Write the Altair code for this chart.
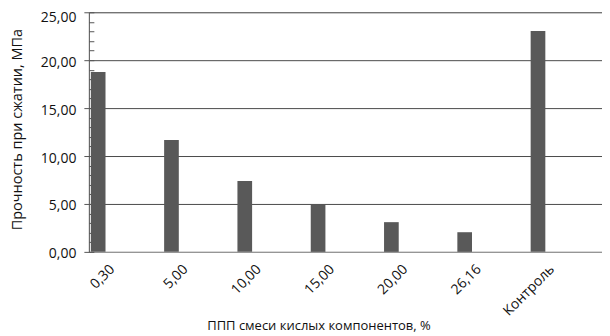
import altair as alt
import pandas as pd

categories = ["0,30", "5,00", "10,00", "15,00", "20,00", "26,16", "Контроль"]
strength = [18.78, 11.67, 7.40, 4.90, 3.10, 2.05, 23.05]
minor_ticks = list(range(0, 26))
major_ticks = [0, 5, 10, 15, 20, 25]

df = pd.DataFrame({"cat": categories, "val": strength})

FONT = "Open Sans"
fmt = "replace(format(datum.value, '.2f'), '.', ',')"

x_enc = alt.X(
    "cat:N",
    sort=categories,
    scale=alt.Scale(paddingInner=0, paddingOuter=0),
    axis=alt.Axis(
        title="ППП смеси кислых компонентов, %",
        labelAngle=-45,
        labelAlign="right",
        labelBaseline="top",
        labelOffset=-18,
        labelPadding=10,
        labelFontSize=14,
        labelFont=FONT,
        labelColor="#111",
        ticks=False,
        domainColor="#a0a0a0",
        titleFont=FONT,
        titleFontSize=13,
        titleFontWeight="normal",
        titleColor="#111",
        titleX=230,
        titleY=74,
        titleAlign="center",
        titleBaseline="middle",
    ),
)

bars = alt.Chart(df).mark_bar(size=14.7, xOffset=-27.4, color="#595959").encode(
    x=x_enc,
    y=alt.Y(
        "val:Q",
        scale=alt.Scale(domain=[0, 25], nice=False),
        axis=alt.Axis(
            title="Прочность при сжатии, МПа",
            values=major_ticks,
            labelExpr=fmt,
            labelFont=FONT,
            labelFontSize=14,
            labelColor="#111",
            labelPadding=8,
            labelOffset={"condition": {"test": "datum.value == 25", "value": 5.5}, "value": 2},
            tickSize=5,
            tickColor="#555",
            domainColor="#555",
            grid=True,
            gridColor="#4a4a4a",
            gridWidth=1,
            titleFont=FONT,
            titleFontSize=14.5,
            titleFontWeight="normal",
            titleColor="#111",
            titleX=-71,
            titleY=117,
            titleBaseline="middle",
            titleAlign="center",
        ),
    ),
)

minor = alt.Chart(pd.DataFrame({"t": minor_ticks})).mark_point(opacity=0).encode(
    y=alt.Y(
        "t:Q",
        scale=alt.Scale(domain=[0, 25], nice=False),
        axis=alt.Axis(
            orient="left",
            values=minor_ticks,
            labels=False,
            domain=False,
            grid=False,
            title=None,
            tickSize=5,
            tickColor="#555",
            offset=-5,
        ),
    ),
)

chart = (
    alt.layer(bars, minor)
    .resolve_axis(y="independent")
    .properties(
        width=514,
        height=240,
        autosize=alt.AutoSizeParams(type="none"),
        padding={"left": 81, "top": 4, "right": 0, "bottom": 84},
    )
    .configure_view(stroke="#666", strokeWidth=1)
    .configure(background="white")
)

chart.save("out.html", embed_options={"renderer": "svg", "actions": False})
